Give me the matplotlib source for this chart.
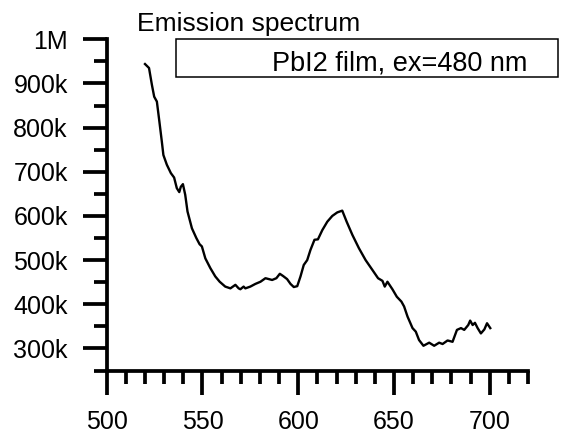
import matplotlib
matplotlib.use("Agg")
import matplotlib.pyplot as plt
from matplotlib.ticker import FixedLocator, MultipleLocator
from matplotlib.patches import Rectangle

plt.rcParams['font.family'] = ['Liberation Sans', 'DejaVu Sans']

wavelength = [520.0, 522.1, 523.6, 524.8, 526.2, 527.5, 528.8, 529.6, 531.4, 533.5,
              535.2, 536.6, 537.9, 538.7, 539.8, 541.0, 542.2, 544.5, 546.8, 548.5,
              549.7, 551.5, 554.1, 556.7, 559.0, 561.9, 564.6, 567.2, 568.9, 569.8,
              571.5, 572.4, 575.0, 577.6, 580.3, 582.9, 586.4, 588.6, 590.4, 592.1,
              594.2, 596.0, 597.7, 599.5, 601.2, 602.9, 604.7, 606.4, 608.5, 610.3,
              612.6, 615.2, 617.8, 620.4, 623.0, 625.3, 628.3, 631.7, 635.2, 638.7,
              641.7, 644.0, 645.2, 646.6, 649.2, 651.5, 653.9, 655.3, 657.1, 659.7,
              661.4, 663.1, 665.4, 668.4, 671.0, 673.6, 675.4, 678.0, 680.6, 682.9,
              685.0, 686.7, 688.8, 689.8, 691.1, 692.3, 693.7, 695.4, 697.2, 698.6,
              700.3]
intensity = [944, 935, 897, 870, 859, 814, 768, 738, 716, 697,
             687, 663, 654, 666, 672, 648, 610, 572, 550, 536,
             531, 504, 482, 463, 451, 440, 436, 444, 436, 434,
             440, 436, 440, 446, 451, 459, 455, 459, 469, 464,
             457, 446, 439, 441, 463, 489, 500, 523, 546, 547,
             568, 587, 600, 608, 612, 587, 557, 527, 500, 478,
             459, 453, 440, 451, 434, 417, 406, 395, 372, 346,
             338, 319, 306, 313, 306, 313, 310, 318, 315, 342,
             346, 342, 353, 363, 353, 358, 346, 334, 343, 357,
             346]
intensity = [v * 1000 for v in intensity]

x_ticks = [500, 550, 600, 650, 700]
y_ticks = [300000, 400000, 500000, 600000, 700000, 800000, 900000, 1000000]
y_tick_labels = ["300k", "400k", "500k", "600k", "700k", "800k", "900k", "1M"]
title_text = "Emission spectrum"
legend_text = "PbI2 film, ex=480 nm"

fig = plt.figure(figsize=(5.73, 4.34), dpi=100)
ax = fig.add_axes([106.7 / 573, 63.5 / 434, (528 - 106.7) / 573, (370.5 - 39.3) / 434])

ax.plot(wavelength, intensity, color='black', lw=1.7)

ax.set_xlim(500, 720)
ax.set_ylim(250000, 1000000)

for s in ['top', 'right']:
    ax.spines[s].set_visible(False)
for s in ['left', 'bottom']:
    ax.spines[s].set_linewidth(2.7)

ax.xaxis.set_major_locator(FixedLocator(x_ticks))
ax.xaxis.set_minor_locator(MultipleLocator(10))
ax.yaxis.set_major_locator(FixedLocator(y_ticks))
ax.yaxis.set_minor_locator(FixedLocator([250000 + 100000 * i for i in range(8)]))
ax.set_yticklabels(y_tick_labels)

ax.tick_params(axis='both', which='major', direction='out', length=17, width=2.7,
               labelsize=18)
ax.tick_params(axis='both', which='minor', direction='out', length=9.5, width=2.7)
ax.tick_params(axis='x', which='major', pad=11.5)
ax.tick_params(axis='y', which='major', pad=11)

fig.text(137 / 573, 1 - 30.7 / 434, title_text, fontsize=19, ha='left', va='baseline')

rect = Rectangle((176 / 573, 1 - 77 / 434), (558 - 176) / 573, (77 - 39) / 434,
                 transform=fig.transFigure, fill=False, edgecolor='black', lw=1.1,
                 clip_on=False)
fig.patches.append(rect)
fig.text(399.5 / 573, 1 - 70 / 434, legend_text, fontsize=19.5, ha='center', va='baseline')

fig.savefig("out.png", dpi=100)
